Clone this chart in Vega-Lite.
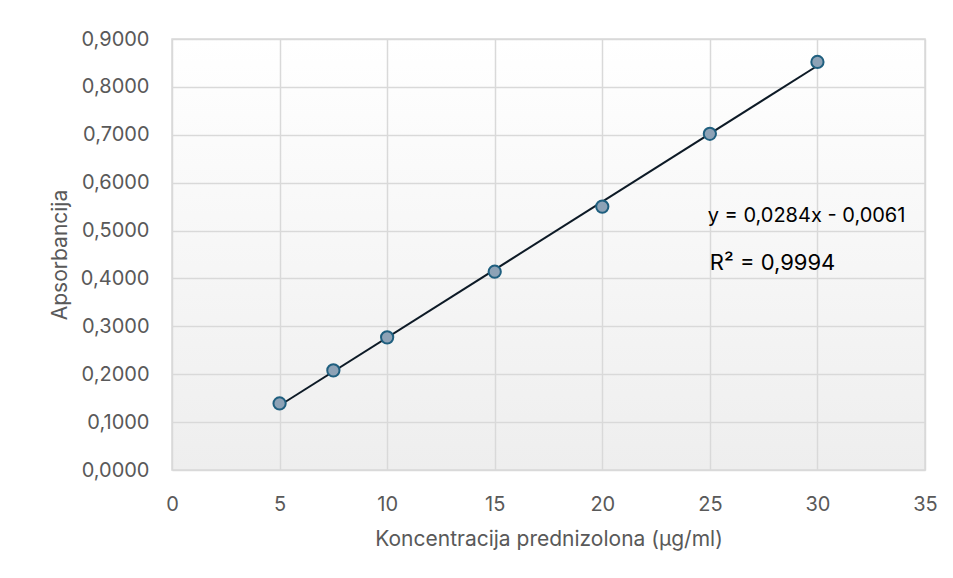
{
  "$schema": "https://vega.github.io/schema/vega-lite/v6.json",
  "width": 753,
  "height": 431,
  "autosize": {"type": "none"},
  "padding": {"left": 172, "top": 39, "right": 28, "bottom": 108},
  "background": "white",
  "view": {
    "fill": {"expr": "{gradient: 'linear', x1: 0, y1: 0, x2: 0, y2: 1, stops: [{offset: 0, color: '#ffffff'}, {offset: 1, color: '#eeeeee'}]}"}
  },
  "config": {
    "font": "Inter",
    "view": {"stroke": "#d9d9d9", "strokeWidth": 1.5},
    "axis": {
      "labelFont": "Inter",
      "titleFont": "Inter",
      "labelFontSize": 20,
      "titleFontSize": 21,
      "labelColor": "#595959",
      "titleColor": "#595959",
      "labelFontWeight": "normal",
      "titleFontWeight": "normal",
      "labelFlush": false,
      "gridColor": "#d9d9d9",
      "gridWidth": 1.5,
      "domain": false,
      "ticks": false
    }
  },
  "datasets": {
    "pts": [
      {"c": 5, "a": 0.139},
      {"c": 7.5, "a": 0.208},
      {"c": 10, "a": 0.277},
      {"c": 15, "a": 0.414},
      {"c": 20, "a": 0.550},
      {"c": 25, "a": 0.702},
      {"c": 30, "a": 0.852}
    ],
    "notes": [
      {"x": 24.9, "y": 0.530, "t": "y = 0,0284x - 0,0061", "s": 20},
      {"x": 25.0, "y": 0.432, "t": "R² = 0,9994", "s": 22}
    ]
  },
  "layer": [
    {
      "data": {"name": "pts"},
      "transform": [{"regression": "a", "on": "c"}],
      "mark": {"type": "line", "color": "#0d1a26", "strokeWidth": 2},
      "encoding": {
        "x": {
          "field": "c", "type": "quantitative",
          "scale": {"domain": [0, 35], "nice": false},
          "axis": {
            "values": [0, 5, 10, 15, 20, 25, 30, 35],
            "labelPadding": 24,
            "title": "Koncentracija prednizolona (µg/ml)",
            "titlePadding": 14
          }
        },
        "y": {
          "field": "a", "type": "quantitative",
          "scale": {"domain": [0, 0.9], "nice": false},
          "axis": {
            "values": [0, 0.1, 0.2, 0.3, 0.4, 0.5, 0.6, 0.7, 0.8, 0.9],
            "labelExpr": "replace(format(datum.value, '.4f'), '.', ',')",
            "labelPadding": 23,
            "title": "Apsorbancija",
            "titlePadding": 10
          }
        }
      }
    },
    {
      "data": {"name": "pts"},
      "mark": {"type": "point", "filled": true, "fill": "#8da2b6", "stroke": "#1f5f7f", "strokeWidth": 2, "size": 150, "opacity": 1},
      "encoding": {
        "x": {"field": "c", "type": "quantitative"},
        "y": {"field": "a", "type": "quantitative"}
      }
    },
    {
      "data": {"name": "notes"},
      "mark": {"type": "text", "align": "left", "baseline": "middle", "color": "#000000", "font": "Inter"},
      "encoding": {
        "x": {"field": "x", "type": "quantitative"},
        "y": {"field": "y", "type": "quantitative"},
        "text": {"field": "t"},
        "size": {"field": "s", "type": "quantitative", "scale": null}
      }
    }
  ]
}
